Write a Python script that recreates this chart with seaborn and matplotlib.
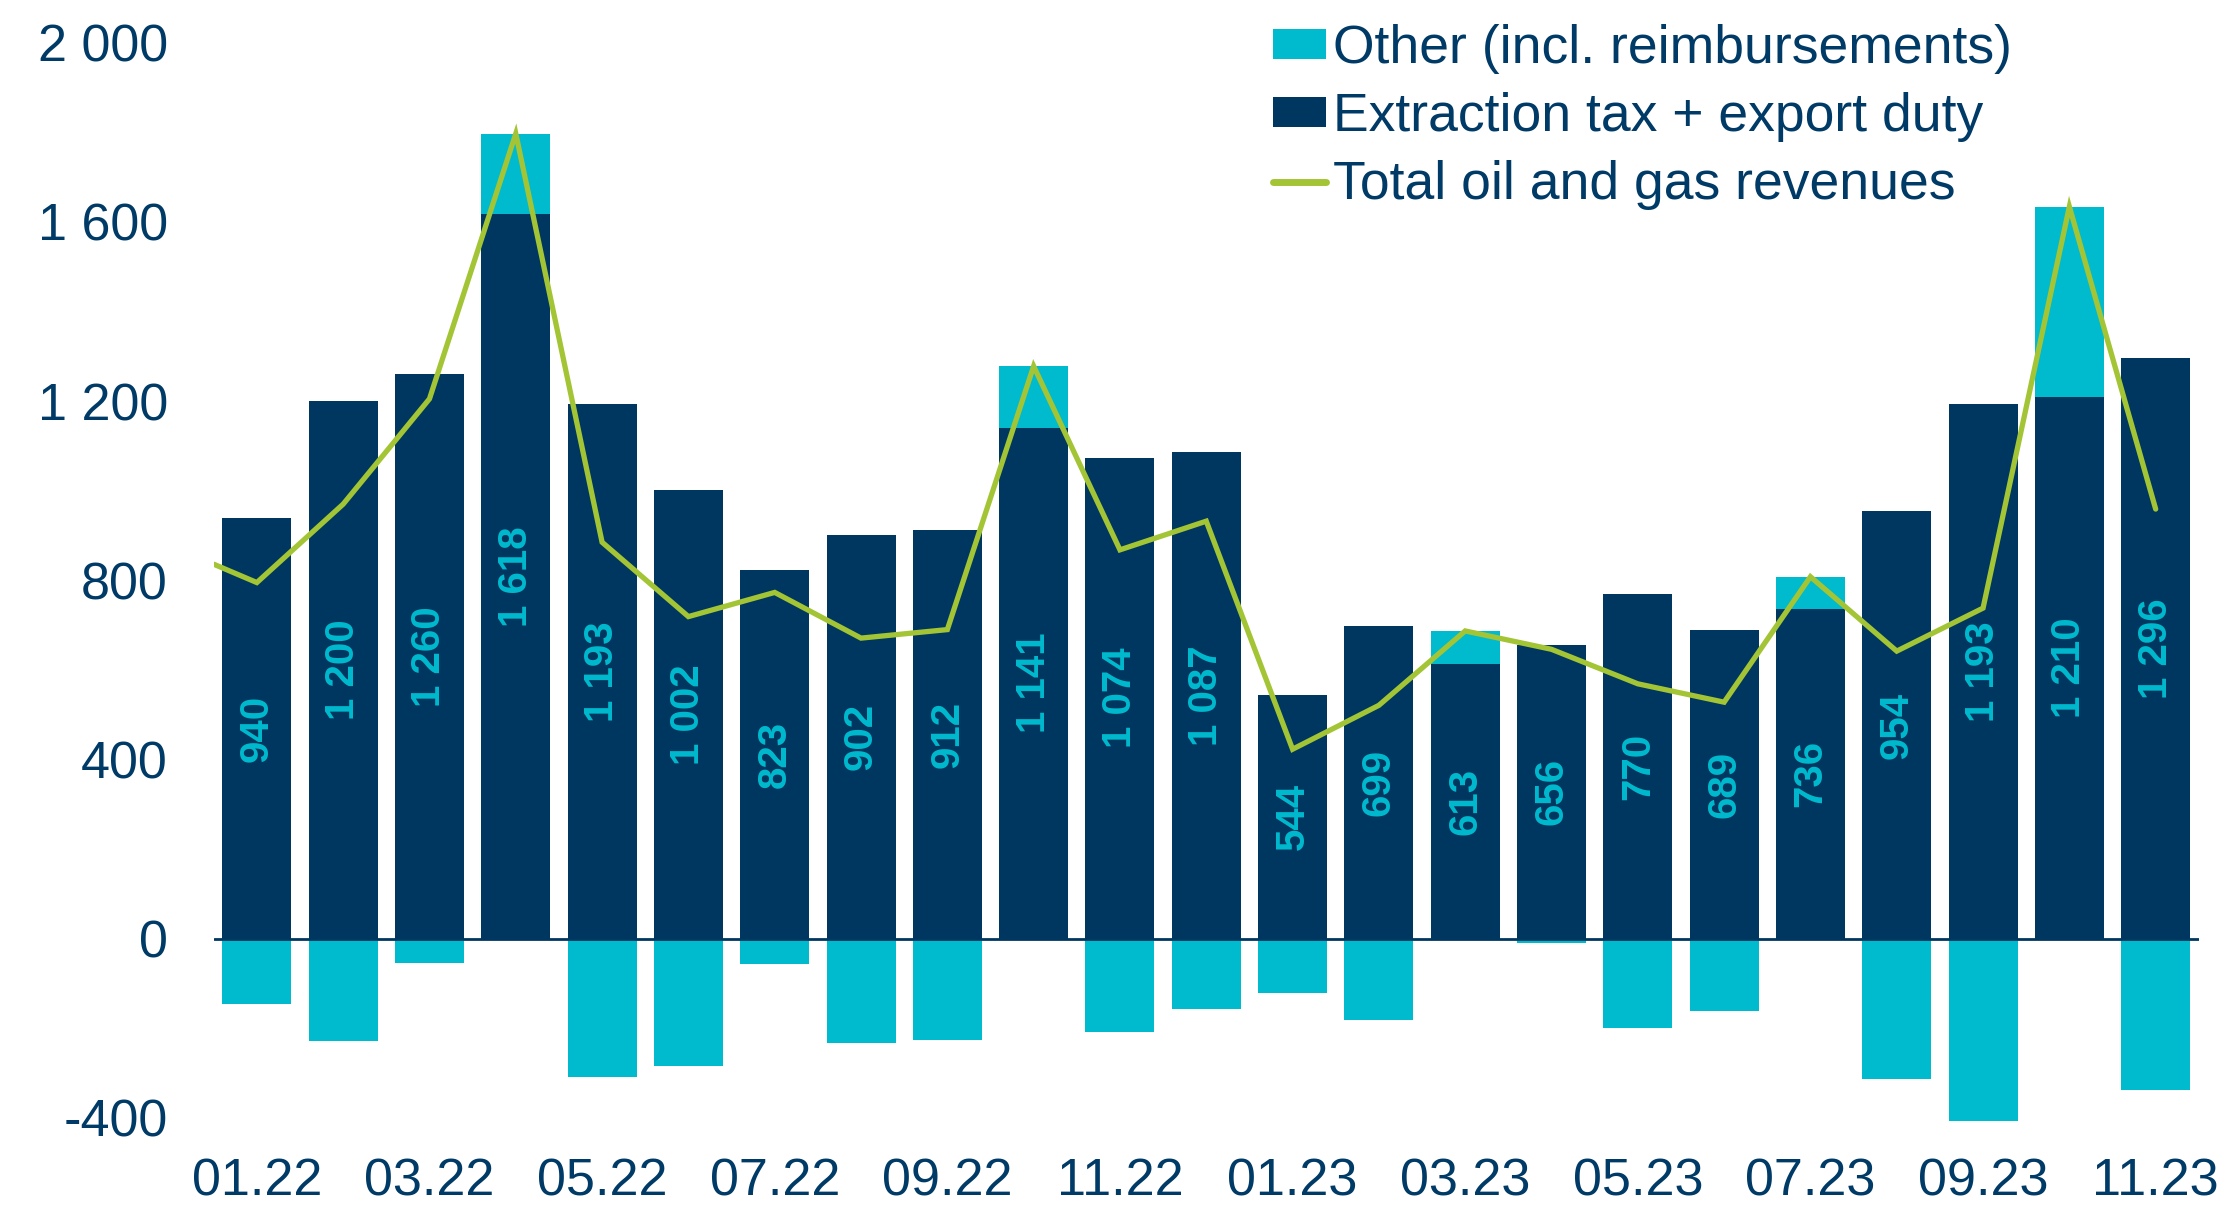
import numpy as np
import pandas as pd
import matplotlib
matplotlib.use("Agg")
import matplotlib.pyplot as plt
import seaborn as sns
from matplotlib.patches import Patch
from matplotlib.lines import Line2D

# ---- data ----
months = ["01.22", "02.22", "03.22", "04.22", "05.22", "06.22", "07.22", "08.22",
          "09.22", "10.22", "11.22", "12.22", "01.23", "02.23", "03.23", "04.23",
          "05.23", "06.23", "07.23", "08.23", "09.23", "10.23", "11.23"]
extraction = [940, 1200, 1260, 1618, 1193, 1002, 823, 902, 912, 1141, 1074, 1087,
              544, 699, 613, 656, 770, 689, 736, 954, 1193, 1210, 1296]
other = [-146, -229, -54, 179, -308, -283, -57, -232, -226, 137, -207, -156,
         -121, -181, 74, -10, -200, -162, 72, -312, -407, 424, -337]
total = [795, 970, 1205, 1797, 885, 719, 773, 671, 690, 1278, 868, 932,
         423, 521, 687, 646, 569, 528, 808, 642, 738, 1634, 959]
total_start = 836  # value where the line enters at the left edge of the plot
y_ticks = [-400, 0, 400, 800, 1200, 1600, 2000]

NAVY = "#003761"
CYAN = "#00BACE"
GREEN = "#A3C535"
TEXT = "#003A66"

sns.set_theme(style="white")
plt.rcParams["font.family"] = ["Liberation Sans", "DejaVu Sans"]

df = pd.DataFrame({"month": months, "extraction": extraction, "other": other})
df["pos_stack"] = df["extraction"] + df["other"].clip(lower=0)
df["neg_other"] = df["other"].clip(upper=0)

fig = plt.figure(figsize=(22.33, 12.08), dpi=100)
ax = fig.add_axes([0.0957, 0.0671, 0.889, 0.8976])

bw = 0.80
sns.barplot(data=df, x="month", y="pos_stack", color=CYAN, saturation=1,
            width=bw, ax=ax, linewidth=0, errorbar=None)
sns.barplot(data=df, x="month", y="extraction", color=NAVY, saturation=1,
            width=bw, ax=ax, linewidth=0, errorbar=None)
sns.barplot(data=df, x="month", y="neg_other", color=CYAN, saturation=1,
            width=bw, ax=ax, linewidth=0, errorbar=None)

line_df = pd.DataFrame({"x": [-0.5] + list(range(len(months))),
                        "y": [total_start] + total})
sns.lineplot(data=line_df, x="x", y="y", color=GREEN, linewidth=3.8, ax=ax,
             sort=False, solid_joinstyle="miter")

ax.axhline(0, color=NAVY, linewidth=2, zorder=1.5)

def fmt(v):
    return f"{v:,}".replace(",", " ")

for i, v in enumerate(extraction):
    ax.text(i, v / 2, fmt(v), rotation=90, ha="center", va="center",
            color=CYAN, fontsize=29, fontweight="bold", zorder=5)

ax.set_xlim(-0.5, len(months) - 0.5)
ax.set_ylim(-420, 2000)
ax.set_yticks(y_ticks)
ax.set_yticklabels([fmt(t) for t in y_ticks])
ax.set_xticks(range(0, len(months), 2))
ax.set_xticklabels(months[::2])
ax.set_xlabel("")
ax.set_ylabel("")
ax.tick_params(axis="both", length=0, labelsize=37.5, colors=TEXT)
ax.tick_params(axis="y", pad=33)
ax.tick_params(axis="x", pad=22)
for s in ax.spines.values():
    s.set_visible(False)
ax.grid(False)

handles = [Patch(facecolor=CYAN, edgecolor="none"),
           Patch(facecolor=NAVY, edgecolor="none"),
           Line2D([0], [0], color=GREEN, linewidth=5, solid_capstyle="round")]
labels = ["Other (incl. reimbursements)", "Extraction tax + export duty",
          "Total oil and gas revenues"]
leg = fig.legend(handles, labels, loc="upper left",
                 bbox_to_anchor=(1273 / 2233, 1 - 24 / 1208),
                 frameon=False, fontsize=38.5, handlelength=1.0,
                 handleheight=0.5, handletextpad=0.12, labelspacing=0.34,
                 borderpad=0, borderaxespad=0)
for t in leg.get_texts():
    t.set_color(TEXT)

fig.savefig("out.png", dpi=100)
